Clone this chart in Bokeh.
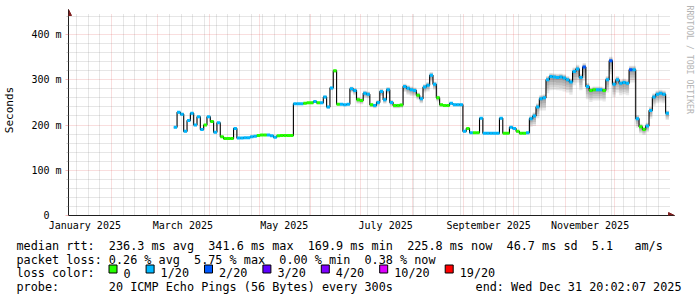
from bokeh.plotting import figure
from bokeh.layouts import column
from bokeh.models import FixedTicker, Label, Arrow, NormalHead, Range1d, ColumnDataSource
from bokeh.core.properties import value
from bokeh.embed import file_html
from bokeh.resources import INLINE

# ---------------- data ----------------
# time axis: days since 2025-01-01 00:00
month_starts = [0, 31, 59, 90, 120, 151, 181, 212, 243, 273, 304, 334]
month_labels = ["January 2025", "March 2025", "May 2025", "July 2025", "September 2025", "November 2025"]
label_month_idx = [0, 2, 4, 6, 8, 10]
first_week_day = 3
y_major = [0, 100, 200, 300, 400]
y_labels = ["0\u00a0\u00a0", "100 m", "200 m", "300 m", "400 m"]

sample_start_day = 69.5
sample_step_days = 2.0

median_ms = [
    195, 228, 224, 186, 210, 226, 200, 218, 190, 200,
    218, 208, 184, 205, 174, 170, 170, 170, 192, 171,
    171, 172, 172, 174, 175, 177, 178, 178, 178, 176,
    173, 176, 177, 177, 177, 177, 247, 247, 247, 248,
    249, 249, 252, 249, 249, 262, 240, 282, 320, 246,
    246, 245, 246, 280, 276, 256, 254, 270, 268, 245,
    243, 250, 274, 256, 278, 250, 243, 243, 244, 285,
    281, 278, 276, 266, 258, 284, 288, 310, 290, 260,
    245, 243, 243, 248, 245, 245, 245, 186, 192, 183,
    183, 183, 215, 182, 182, 182, 182, 182, 215, 182,
    182, 195, 192, 186, 182, 182, 183, 214, 220, 240,
    258, 260, 300, 307, 306, 305, 306, 304, 300, 295,
    318, 324, 305, 328, 285, 276, 278, 278, 278, 276,
    300, 342, 290, 300, 292, 294, 292, 322, 322, 214,
    196, 190, 198, 232, 262, 268, 270, 268, 226,
]
loss_pings = [
    1, 1, 1, 1, 1, 1, 1, 1, 1, 0,
    1, 0, 1, 1, 0, 0, 0, 0, 1, 1,
    1, 1, 1, 1, 1, 0, 0, 0, 1, 1,
    1, 0, 0, 0, 0, 0, 1, 1, 1, 0,
    0, 0, 1, 0, 1, 1, 1, 1, 0, 0,
    1, 1, 1, 1, 1, 0, 0, 1, 1, 0,
    1, 1, 1, 1, 1, 1, 0, 0, 0, 1,
    1, 1, 1, 0, 1, 1, 1, 1, 1, 0,
    0, 0, 0, 1, 1, 1, 1, 1, 0, 1,
    0, 0, 1, 1, 1, 1, 1, 1, 1, 0,
    0, 1, 1, 0, 0, 0, 1, 1, 1, 1,
    1, 1, 1, 1, 1, 1, 1, 1, 1, 1,
    1, 1, 1, 2, 1, 0, 0, 1, 1, 0,
    1, 2, 1, 1, 1, 1, 1, 2, 1, 1,
    0, 0, 1, 1, 1, 1, 1, 1, 1,
]
smoke_lo_ms = [
    3, 4, 4, 3, 3, 4, 3, 3, 3, 3,
    3, 3, 3, 3, 2, 2, 2, 2, 3, 2,
    2, 2, 2, 2, 2, 2, 2, 2, 2, 2,
    2, 2, 2, 2, 2, 2, 3, 3, 3, 3,
    3, 3, 3, 3, 3, 4, 4, 5, 5, 3,
    3, 3, 3, 8, 10, 9, 8, 10, 9, 6,
    6, 8, 10, 9, 10, 8, 6, 6, 6, 12,
    14, 14, 13, 10, 10, 12, 14, 14, 12, 8,
    5, 4, 4, 4, 4, 4, 4, 3, 3, 3,
    3, 3, 3, 3, 3, 3, 3, 3, 4, 3,
    3, 3, 3, 3, 3, 3, 4, 18, 22, 25,
    26, 28, 30, 30, 28, 28, 30, 30, 28, 28,
    30, 30, 28, 30, 28, 25, 24, 24, 24, 24,
    28, 30, 28, 28, 26, 26, 26, 28, 28, 20,
    15, 12, 14, 18, 20, 20, 20, 20, 15,
]
smoke_hi_ms = [
    2, 3, 3, 2, 2, 3, 2, 2, 2, 2,
    2, 2, 2, 2, 2, 2, 2, 2, 2, 2,
    2, 2, 2, 2, 2, 2, 2, 2, 2, 2,
    2, 2, 2, 2, 2, 2, 2, 2, 2, 2,
    2, 2, 2, 2, 2, 3, 3, 3, 3, 2,
    2, 2, 2, 5, 6, 6, 5, 6, 6, 4,
    4, 5, 6, 6, 6, 5, 4, 4, 4, 6,
    7, 7, 7, 6, 6, 6, 7, 7, 6, 5,
    3, 3, 3, 3, 3, 3, 3, 2, 2, 2,
    2, 2, 2, 2, 2, 2, 2, 2, 2, 2,
    2, 2, 2, 2, 2, 2, 2, 6, 8, 8,
    8, 8, 8, 8, 8, 8, 8, 8, 8, 8,
    9, 9, 8, 9, 8, 7, 7, 7, 7, 7,
    8, 9, 8, 8, 8, 8, 8, 9, 9, 8,
    7, 6, 7, 8, 8, 8, 8, 8, 6,
]

loss_thresholds = [0, 1, 2, 3, 4, 10, 19]
loss_names = ["0", "1/20", "2/20", "3/20", "4/20", "10/20", "19/20"]
loss_colors = ["#26ff00", "#00b8ff", "#0059ff", "#5e00ff", "#7e00ff", "#dd00ff", "#ff0000"]

stats_line1 = "median rtt:  236.3 ms avg  341.6 ms max  169.9 ms min  225.8 ms now  46.7 ms sd  5.1   am/s"
stats_line2 = "packet loss: 0.26 % avg  5.75 % max  0.00 % min  0.38 % now"
loss_title = "loss color:"
probe_line = "probe:       20 ICMP Echo Pings (56 Bytes) every 300s"
end_line = "end: Wed Dec 31 20:02:07 2025"
watermark = "RRDTOOL / TOBI OETIKER"
y_title = "Seconds"

# ---------------- geometry / styling ----------------
W = 697
H_MAIN = 235
H_LEG = 297 - H_MAIN
FL, FT, FB = 67, 4, 215          # frame left/top/bottom (pixels)
GRID_RIGHT = 669                 # where the data area ends
X0, XD = 5.17, 366.85            # days at px 67 and px 669
PPD = (GRID_RIGHT - FL) / (XD - X0)
PPM = 181.0 / 400.0              # px per ms
XR = X0 + (W - FL) / PPD         # range end at right canvas edge
YD = (FB - 13) / PPM             # top of data area (px 13)
YR = (FB - FT) / PPM             # top of frame
MONO = "DejaVu Sans Mono"
GRID_C = "rgba(143,143,143,0.45)"
MGRID_C = "rgba(222,79,79,0.38)"
AXIS_C = "#1f1f1f"
ARROW_C = "#7f1f1f"
CH = 7.1


def nb(s):
    return s.replace("  ", "\u00a0\u00a0")


def loss_color(n):
    c = loss_colors[0]
    for t, col in zip(loss_thresholds, loss_colors):
        if n >= t:
            c = col
    return c


days = [sample_start_day + i * sample_step_days for i in range(len(median_ms))]

p = figure(width=W, height=H_MAIN, x_range=Range1d(X0, XR), y_range=Range1d(0, YR),
           output_backend="svg", toolbar_location=None,
           min_border_left=FL, min_border_right=0, min_border_top=FT, min_border_bottom=H_MAIN - FB)
p.outline_line_color = None
p.background_fill_color = "white"
p.border_fill_color = "white"

week_days = [d for d in range(first_week_day, int(XD) + 1, 7) if d not in month_starts and d > X0]
y_minor = [v for v in range(20, int(YD), 20) if v not in y_major]

use_cross = True
try:
    p.xgrid.cross_bounds = (0, YD)
    p.ygrid.cross_bounds = (X0, XD)
except Exception:
    use_cross = False

if use_cross:
    p.xgrid.ticker = FixedTicker(ticks=month_starts, minor_ticks=week_days)
    p.ygrid.ticker = FixedTicker(ticks=y_major, minor_ticks=y_minor)
    for g in (p.xgrid, p.ygrid):
        g.grid_line_color = MGRID_C
        g.grid_line_dash = "1 1"
        g.minor_grid_line_color = GRID_C
        g.minor_grid_line_dash = "1 1"
else:
    p.grid.visible = False
    p.segment(x0=week_days, y0=[0] * len(week_days), x1=week_days, y1=[YD] * len(week_days),
              line_color=GRID_C, line_dash="1 1", level="underlay")
    p.segment(x0=[X0] * len(y_minor), y0=y_minor, x1=[XD] * len(y_minor), y1=y_minor,
              line_color=GRID_C, line_dash="1 1", level="underlay")
    p.segment(x0=month_starts, y0=[0] * 12, x1=month_starts, y1=[YD] * 12,
              line_color=MGRID_C, line_dash="1 1", level="underlay")
    p.segment(x0=[X0] * 5, y0=y_major, x1=[XD] * 5, y1=y_major,
              line_color=MGRID_C, line_dash="1 1", level="underlay")

label_days = [month_starts[i] + 15 for i in label_month_idx]
p.xaxis.ticker = FixedTicker(ticks=label_days, minor_ticks=[])
p.xaxis.major_label_overrides = dict(zip(label_days, month_labels))
p.xaxis.major_tick_out = 0
p.xaxis.major_tick_in = 0
p.xaxis.minor_tick_out = 0
p.xaxis.minor_tick_in = 0
p.xaxis.major_label_standoff = 4
p.xaxis.bounds = (X0 - 5 / PPD, XD + 5 / PPD)

p.yaxis.ticker = FixedTicker(ticks=y_major, minor_ticks=y_minor)
p.yaxis.major_label_overrides = dict(zip(y_major, y_labels))
p.yaxis.major_tick_out = 3
p.yaxis.major_tick_in = 0
p.yaxis.major_tick_line_color = MGRID_C
p.yaxis.minor_tick_out = 2
p.yaxis.minor_tick_in = 0
p.yaxis.minor_tick_line_color = GRID_C
p.yaxis.major_label_standoff = 4
p.yaxis.bounds = (-4 / PPM, YD + 4 / PPM)
p.yaxis.axis_label = y_title
p.yaxis.axis_label_text_font = MONO
p.yaxis.axis_label_text_font_size = "11px"
p.yaxis.axis_label_text_font_style = "normal"
p.yaxis.axis_label_text_color = "black"
p.yaxis.axis_label_standoff = 12

for ax in (p.xaxis, p.yaxis):
    ax.axis_line_color = AXIS_C
    ax.axis_line_width = 1
    ax.major_label_text_font = MONO
    ax.major_label_text_font_size = "10px"
    ax.major_label_text_color = "black"

# axis arrow heads
p.add_layout(Arrow(end=NormalHead(size=6, fill_color=ARROW_C, line_color=ARROW_C, line_width=1),
                   x_start=XD, y_start=0, x_end=XD + 5 / PPD, y_end=0, line_color=AXIS_C, line_width=1))
p.add_layout(Arrow(end=NormalHead(size=6, fill_color=ARROW_C, line_color=ARROW_C, line_width=1),
                   x_start=X0, y_start=YD, x_end=X0, y_end=YD + 4 / PPM, line_color=AXIS_C, line_width=1))

# smoke (ping distribution)
for f in (1.0, 0.8, 0.6, 0.4, 0.2):
    src = ColumnDataSource(dict(
        left=[d - sample_step_days / 2 for d in days],
        right=[d + sample_step_days / 2 for d in days],
        bottom=[m - lo * f for m, lo in zip(median_ms, smoke_lo_ms)],
        top=[m + hi * f for m, hi in zip(median_ms, smoke_hi_ms)],
    ))
    p.quad(left="left", right="right", bottom="bottom", top="top", source=src,
           fill_color="#303030", fill_alpha=0.11, line_color=None)

# median line
p.step(x=days, y=median_ms, mode="center", line_color="#000000", line_width=1.1)

# loss-coloured median marks
msrc = ColumnDataSource(dict(x=days, y=median_ms, c=[loss_color(n) for n in loss_pings]))
p.rect(x="x", y="y", width=sample_step_days, height=3, height_units="screen",
       fill_color="c", line_color=None, source=msrc)

# watermark
p.add_layout(Label(x=688 - FL, y=FB - 5, x_units="screen", y_units="screen", text=watermark,
                   angle=-1.5707963, text_align="left", text_baseline="middle",
                   text_font=MONO, text_font_size="8.2px", text_color="#b4b4b4"))

# ---------------- legend area (pixel coordinates) ----------------
lg = figure(width=W, height=H_LEG, x_range=Range1d(0, W), y_range=Range1d(297, H_MAIN),
            output_backend="svg", toolbar_location=None, x_axis_type=None, y_axis_type=None,
            min_border_left=0, min_border_right=0, min_border_top=0, min_border_bottom=0)
lg.outline_line_color = None
lg.grid.visible = False
lg.background_fill_color = "white"
lg.border_fill_color = "white"

for fig in (p, lg):
    try:
        fig.frame_align = False
    except Exception:
        pass

BL = [245.5, 259.2, 272.9, 286.7]
tx, ty, tt = [16, 16, 16, 16], [BL[0], BL[1], BL[2], BL[3]], [stats_line1, stats_line2, loss_title, probe_line]

bx = 108.0
box_l, box_r, box_c = [], [], []
for name, col in zip(loss_names, loss_colors):
    box_l.append(bx)
    box_r.append(bx + 8)
    box_c.append(col)
    tx.append(bx + 15)
    ty.append(BL[2])
    tt.append(name)
    bx += 15 + len(name) * CH + 15

lg.text(x=tx, y=ty, text=[nb(t) for t in tt], text_font=value(MONO), text_font_size=value("11.8px"),
        text_baseline="alphabetic", text_align="left", text_color="black")
lg.text(x=[681], y=[BL[3]], text=[end_line], text_font=value(MONO), text_font_size=value("11.8px"),
        text_baseline="alphabetic", text_align="right", text_color="black")
lg.quad(left=[l + 0.5 for l in box_l], right=[r + 0.5 for r in box_r],
        top=[264.5] * len(box_l), bottom=[272.5] * len(box_l),
        fill_color=box_c, line_color="black", line_width=1)

layout = column(p, lg, spacing=0)
open("out.html", "w").write(file_html(layout, INLINE))
